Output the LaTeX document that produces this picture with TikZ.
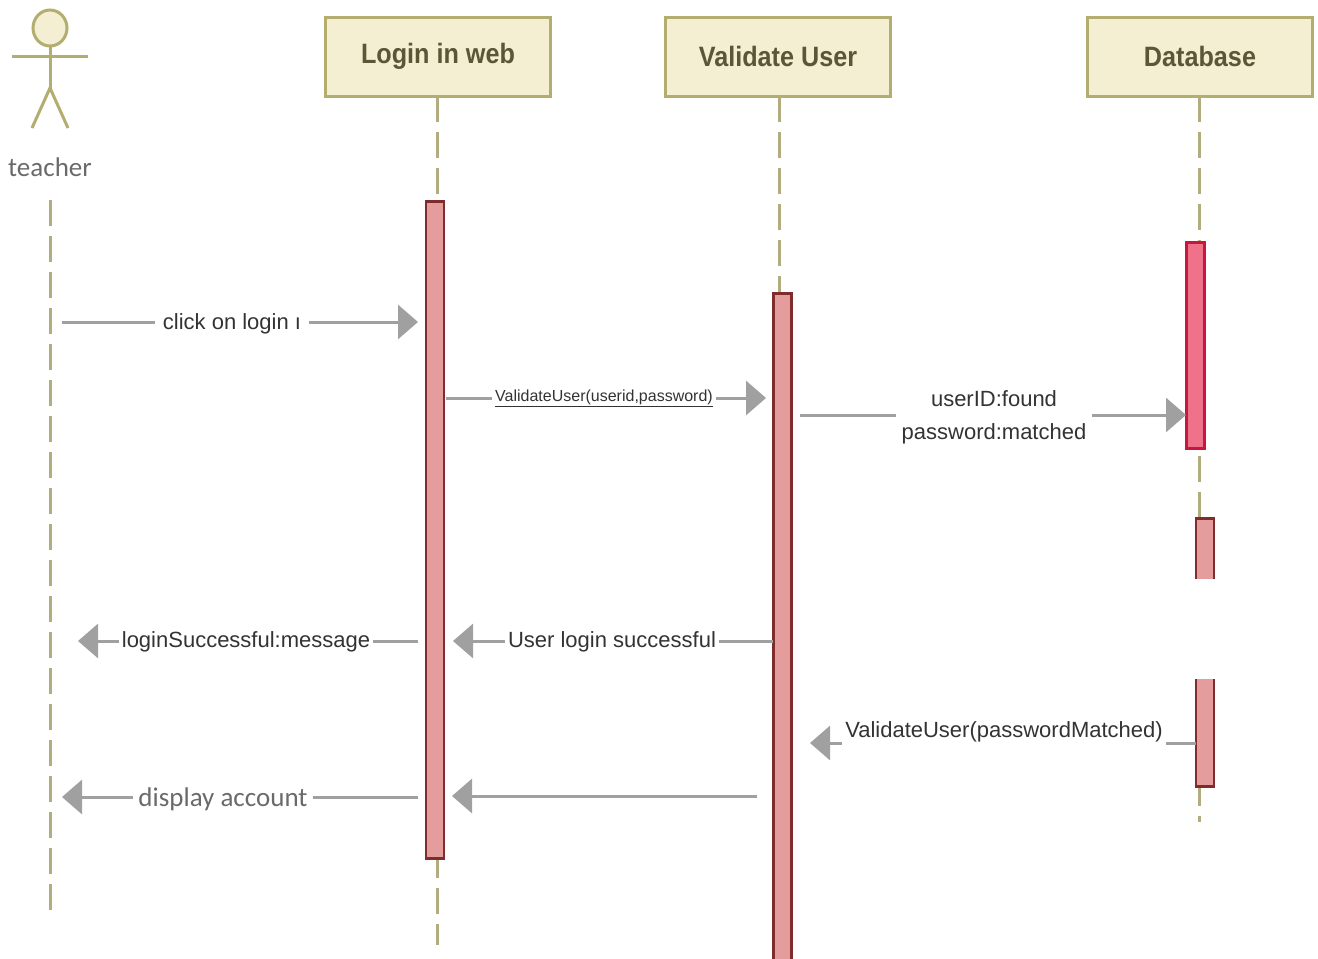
\documentclass[tikz,border=0pt]{standalone}
\usepackage{fontspec}
\setmainfont{Liberation Sans}
\newfontfamily\carl{Carlito}
\newfontfamily\hdrfont{Liberation Sans}[FakeStretch=0.9]
\usetikzlibrary{arrows.meta}
\definecolor{hdrfill}{HTML}{F4EFD2}
\definecolor{hdrdraw}{HTML}{B4AD70}
\definecolor{hdrtext}{HTML}{5A5736}
\definecolor{lifel}{HTML}{B2AC7E}
\definecolor{barfill}{HTML}{E49C9C}
\definecolor{bardraw}{HTML}{7E2C2C}
\definecolor{dbfill}{HTML}{F0728A}
\definecolor{dbdraw}{HTML}{C8163E}
\definecolor{msg}{HTML}{A0A0A0}
\definecolor{msgtext}{HTML}{333333}
\definecolor{softtext}{HTML}{6A6A6A}
\tikzset{
  hdr/.style={draw=hdrdraw, line width=3pt, fill=hdrfill, minimum width=225pt, minimum height=79pt,
              font=\hdrfont\fontsize{28}{32}\selectfont\bfseries, text=hdrtext},
  life/.style={draw=lifel, line width=3pt, dash pattern=on 26pt off 10pt},
  actorline/.style={draw=hdrdraw, line width=3pt},
  bar/.style={draw=bardraw, line width=2.5pt, fill=barfill, minimum width=18pt, anchor=north, inner sep=0pt},
  dbbar/.style={bar, draw=dbdraw, fill=dbfill},
  msgline/.style={draw=msg, line width=3pt, -{Triangle[length=20pt,width=34pt]}},
  lbl/.style={fill=white, text=msgtext, font=\fontsize{22}{26}\selectfont, inner ysep=2pt, inner xsep=4pt},
  softlbl/.style={lbl, text=softtext, font=\carl\fontsize{27}{30}\selectfont},
}
\begin{document}
\begin{tikzpicture}[x=1pt,y=-1pt]
\useasboundingbox[fill=white] (0,0) rectangle (1318,959);

% actor
\draw[actorline, fill=hdrfill] (50,28) ellipse [x radius=17, y radius=18];
\draw[actorline] (12,56) -- (88,56);
\draw[actorline] (50,46) -- (50,88);
\draw[actorline] (32,128) -- (50,88) -- (68,128);
\node[softlbl, fill=none] (teacher) at (50,167) {teacher};

% headers
\node[hdr] (login) at (438,56.5) {Login in web};
\node[hdr] (valid) at (778,56.5) {Validate User};
\node[hdr] (db) at (1200,56.5) {Database};

% lifelines
\draw[life] (50,200) -- (50,920);
\draw[life] (437,96) -- (437,945);
\draw[life] (779,96) -- (779,300);
\draw[life] (1199,96) -- (1199,822);

% activation bars
\node[bar, minimum height=657pt] (loginbar) at (435,200) {};
\node[bar, minimum height=680pt] (validbar) at (782.5,292) {};
\node[dbbar, minimum height=206pt] (dbbar1) at (1195.5,241) {};
\node[bar, minimum height=268pt] (dbbar2) at (1205,517) {};
\fill[white] (1186,579) rectangle (1226,679);

% message endpoints
\coordinate (m1a) at (62,322);   \coordinate (m1b) at (418,322);
\coordinate (m2a) at (446,398);  \coordinate (m2b) at (766,398);
\coordinate (m3a) at (800,415);  \coordinate (m3b) at (1186,415);
\coordinate (m4a) at (418,641);  \coordinate (m4b) at (78,641);
\coordinate (m5a) at (773,641);  \coordinate (m5b) at (453,641);
\coordinate (m6a) at (1196,743); \coordinate (m6b) at (810,743);
\coordinate (m7a) at (418,797);  \coordinate (m7b) at (62,797);
\coordinate (m8a) at (757,796);  \coordinate (m8b) at (452,796);

\draw[msgline] (m1a) -- (m1b);
\draw[msgline] (m2a) -- (m2b);
\draw[msgline] (m3a) -- (m3b);
\draw[msgline] (m4a) -- (m4b);
\draw[msgline] (m5a) -- (m5b);
\draw[msgline] (m6a) -- (m6b);
\draw[msgline] (m7a) -- (m7b);
\draw[msgline] (m8a) -- (m8b);

% labels
\node[lbl, inner xsep=8pt] (l1) at (232,324) {click on login ı};
\node[lbl, inner xsep=3pt, font=\fontsize{16}{19}\selectfont] (l2) at (604,398) {\underline{ValidateUser(userid,password)}};
\node[lbl, align=center, inner xsep=6pt, font=\fontsize{22}{33}\selectfont] (l3) at (994,417) {userID:found\\password:matched};
\node[lbl, inner xsep=3pt] (l4) at (246,642) {loginSuccessful:message};
\node[lbl, inner xsep=3pt] (l5) at (612,642) {User login successful};
\node[lbl, inner xsep=3pt, minimum height=34pt] (l6) at (1004,732) {ValidateUser(passwordMatched)};
\node[softlbl, inner xsep=5pt] (l7) at (223,799) {display account};
\end{tikzpicture}
\end{document}
